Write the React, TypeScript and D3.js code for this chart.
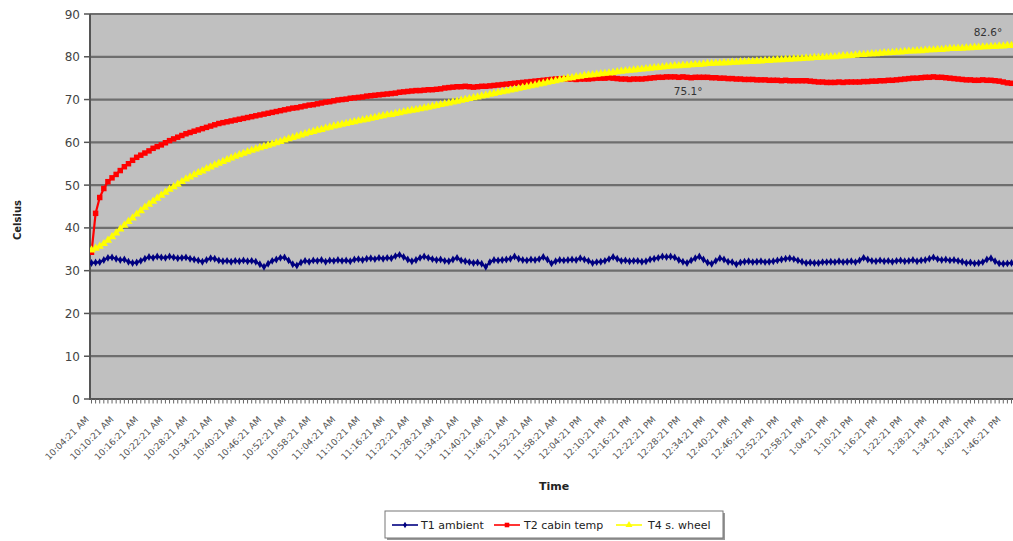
import React from "react";
import * as d3 from "d3";

const yTicks = [0, 10, 20, 30, 40, 50, 60, 70, 80, 90];

const tickLabels = [
  "10:04:21 AM", "10:10:21 AM", "10:16:21 AM", "10:22:21 AM", "10:28:21 AM", "10:34:21 AM", "10:40:21 AM", "10:46:21 AM", "10:52:21 AM", "10:58:21 AM",
  "11:04:21 AM", "11:10:21 AM", "11:16:21 AM", "11:22:21 AM", "11:28:21 AM", "11:34:21 AM", "11:40:21 AM", "11:46:21 AM", "11:52:21 AM", "11:58:21 AM",
  "12:04:21 PM", "12:10:21 PM", "12:16:21 PM", "12:22:21 PM", "12:28:21 PM", "12:34:21 PM", "12:40:21 PM", "12:46:21 PM", "12:52:21 PM", "12:58:21 PM",
  "1:04:21 PM", "1:10:21 PM", "1:16:21 PM", "1:22:21 PM", "1:28:21 PM", "1:34:21 PM", "1:40:21 PM", "1:46:21 PM",
];
const labelEvery = 6; // one label every 6 samples (1 sample per minute)

const t1Ambient = [
  31.8,31.9,32.0,32.5,33.0,33.1,32.8,32.5,32.6,32.1,
  31.8,31.9,32.3,32.8,33.2,33.0,33.3,33.1,33.0,33.3,
  33.1,32.9,33.0,33.1,32.8,32.6,32.4,32.1,32.5,32.9,
  32.8,32.4,32.2,32.3,32.1,32.3,32.2,32.4,32.2,32.3,
  32.1,31.5,30.9,31.6,32.3,32.6,33.0,33.1,32.4,31.5,
  31.2,31.9,32.3,32.1,32.4,32.3,32.5,32.1,32.4,32.3,
  32.5,32.3,32.4,32.2,32.6,32.7,32.5,32.8,32.9,32.7,
  33.0,32.8,33.0,32.9,33.4,33.7,33.2,32.6,32.2,32.5,
  33.0,33.3,33.0,32.7,32.5,32.6,32.3,32.2,32.6,33.0,
  32.4,32.2,32.0,31.8,31.9,31.6,30.9,32.0,32.5,32.4,
  32.5,32.6,32.8,33.3,32.8,32.5,32.4,32.6,32.5,32.7,
  33.2,32.6,31.7,32.2,32.5,32.4,32.5,32.6,32.5,32.9,
  32.6,32.3,31.8,32.0,32.1,32.3,32.7,33.2,32.8,32.3,
  32.4,32.2,32.3,32.3,32.1,32.2,32.6,32.8,33.0,33.3,
  33.2,33.3,33.1,32.5,32.1,31.8,32.4,32.9,33.3,32.6,
  31.9,31.6,32.3,32.9,32.6,32.1,32.0,31.5,31.9,32.1,
  32.2,32.0,32.1,32.2,32.0,32.1,32.2,32.4,32.6,32.8,
  32.9,32.7,32.4,32.1,31.8,31.9,31.8,31.8,32.0,32.0,
  32.1,32.0,32.2,32.0,32.1,32.2,32.0,32.4,33.0,32.6,
  32.3,32.2,32.4,32.2,32.3,32.1,32.3,32.4,32.2,32.3,
  32.5,32.2,32.4,32.5,32.8,33.1,32.7,32.5,32.6,32.4,
  32.5,32.3,32.1,31.8,31.9,31.7,31.8,32.0,32.6,32.9,
  32.2,31.7,31.6,31.7,31.8,
];

const t2Cabin = [
  34.3,43.4,47.1,49.2,50.8,51.7,52.5,53.4,54.3,55.0,
  55.8,56.5,57.0,57.5,58.0,58.6,59.0,59.4,59.9,60.4,
  60.8,61.2,61.6,62.0,62.3,62.6,62.9,63.2,63.5,63.8,
  64.1,64.4,64.6,64.8,65.0,65.2,65.4,65.6,65.8,66.0,
  66.2,66.4,66.6,66.8,67.0,67.2,67.4,67.6,67.8,68.0,
  68.1,68.3,68.5,68.7,68.8,69.0,69.2,69.4,69.5,69.7,
  69.9,70.0,70.1,70.3,70.4,70.5,70.6,70.8,70.9,71.0,
  71.1,71.2,71.3,71.4,71.5,71.7,71.8,71.9,72.0,72.1,
  72.1,72.2,72.3,72.3,72.4,72.5,72.7,72.8,72.9,73.0,
  73.0,73.1,73.0,72.9,73.0,73.1,73.1,73.2,73.3,73.4,
  73.5,73.6,73.7,73.8,73.9,74.0,74.1,74.2,74.3,74.4,
  74.5,74.6,74.7,74.8,74.8,74.9,74.8,74.8,74.7,74.8,
  74.8,74.8,74.9,75.0,75.0,75.0,75.1,75.0,74.9,74.8,
  74.8,74.7,74.8,74.8,74.8,74.9,75.0,75.1,75.2,75.2,
  75.3,75.3,75.3,75.2,75.3,75.2,75.1,75.2,75.2,75.2,
  75.2,75.1,75.1,75.0,75.0,74.9,74.9,74.8,74.8,74.7,
  74.7,74.7,74.6,74.6,74.6,74.5,74.5,74.5,74.4,74.5,
  74.4,74.4,74.4,74.4,74.4,74.3,74.2,74.1,74.1,74.0,
  74.0,74.0,74.1,74.0,74.1,74.1,74.1,74.1,74.2,74.2,
  74.3,74.3,74.4,74.4,74.5,74.5,74.6,74.7,74.8,74.9,
  75.0,75.0,75.1,75.2,75.2,75.3,75.2,75.2,75.1,75.0,
  74.9,74.8,74.7,74.6,74.6,74.5,74.5,74.6,74.5,74.5,
  74.4,74.3,74.1,73.9,73.8,
];

const t4Wheel = [
  34.8,35.2,35.7,36.3,37.1,37.9,38.8,39.7,40.6,41.5,
  42.3,43.2,44.0,44.8,45.5,46.2,46.9,47.6,48.3,49.0,
  49.6,50.2,50.8,51.4,51.9,52.4,52.9,53.3,53.8,54.2,
  54.7,55.1,55.5,55.9,56.3,56.7,57.1,57.4,57.8,58.1,
  58.4,58.7,59.0,59.3,59.6,59.9,60.2,60.5,60.8,61.1,
  61.4,61.7,62.0,62.3,62.5,62.8,63.0,63.3,63.5,63.8,
  64.0,64.2,64.4,64.6,64.8,65.0,65.2,65.4,65.6,65.8,
  66.0,66.2,66.4,66.5,66.7,66.9,67.1,67.3,67.5,67.6,
  67.8,68.0,68.2,68.4,68.6,68.8,69.0,69.2,69.4,69.6,
  69.8,70.0,70.2,70.4,70.6,70.8,71.0,71.2,71.4,71.6,
  71.8,72.0,72.2,72.4,72.6,72.8,73.0,73.2,73.4,73.6,
  73.8,74.0,74.2,74.4,74.6,74.8,75.0,75.1,75.3,75.4,
  75.6,75.7,75.8,75.9,76.0,76.1,76.2,76.3,76.5,76.6,
  76.7,76.8,76.9,77.0,77.1,77.2,77.3,77.4,77.5,77.6,
  77.7,77.8,77.9,77.9,78.0,78.0,78.1,78.2,78.2,78.3,
  78.4,78.4,78.5,78.5,78.6,78.6,78.7,78.7,78.8,78.8,
  78.9,78.9,79.0,79.0,79.1,79.1,79.2,79.3,79.3,79.4,
  79.4,79.5,79.5,79.6,79.7,79.7,79.8,79.8,79.9,79.9,
  80.0,80.0,80.1,80.2,80.2,80.3,80.4,80.5,80.5,80.6,
  80.7,80.7,80.8,80.9,80.9,81.0,81.1,81.1,81.2,81.3,
  81.3,81.4,81.4,81.5,81.6,81.6,81.7,81.7,81.8,81.9,
  81.9,82.0,82.0,82.1,82.1,82.2,82.2,82.3,82.3,82.4,
  82.4,82.5,82.5,82.6,82.6,
];

const seriesNames = ["T1 ambient", "T2 cabin temp", "T4 s. wheel"];
const annotations = [
  { label: "75.1°", index: 146, value: 71.0 },
  { label: "82.6°", index: 219, value: 84.9 },
];

const W = 1013;
const H = 541;
const FONT = "'DejaVu Sans', Verdana, sans-serif";

export default function App() {
  const n = t2Cabin.length;
  const plot = { left: 90, top: 14, right: 1013, bottom: 399 };
  const x = d3.scaleLinear().domain([0, n - 1]).range([91.5, 1011.5]);
  const y = d3.scaleLinear().domain([0, 90]).range([plot.bottom, plot.top]);
  const line = d3
    .line<number>()
    .x((_, i) => x(i))
    .y((d) => y(d));

  const series = [
    { name: seriesNames[0], data: t1Ambient, color: "#000080", sym: d3.symbolDiamond, size: 18, width: 2.2 },
    { name: seriesNames[1], data: t2Cabin, color: "#ff0000", sym: d3.symbolSquare, size: 30, width: 2.2 },
    { name: seriesNames[2], data: t4Wheel, color: "#ffff00", sym: d3.symbolTriangle, size: 30, width: 2.2 },
  ];

  const idx = d3.range(n);
  const labelIdx = tickLabels.map((_, i) => i * labelEvery);

  const legendItems = [
    { x0: 392, tx: 421 },
    { x0: 494, tx: 524 },
    { x0: 616, tx: 648 },
  ];

  return (
    <svg width={W} height={H} style={{ position: "absolute", left: 0, top: 0, background: "#fff" }}>
      <defs>
        <clipPath id="plotclip">
          <rect x={plot.left} y={plot.top - 4} width={plot.right - plot.left} height={plot.bottom - plot.top + 8} />
        </clipPath>
      </defs>
      <rect x={plot.left} y={plot.top} width={plot.right - plot.left} height={plot.bottom - plot.top} fill="#c0c0c0" />
      {yTicks.map((t) => (
        <g key={t}>
          <line x1={plot.left} x2={plot.right} y1={y(t)} y2={y(t)} stroke="#6e6e6e" strokeWidth={2.2} />
          <line x1={84} x2={plot.left} y1={y(t)} y2={y(t)} stroke="#555" strokeWidth={1.5} />
          <text x={80} y={y(t) + 4.5} textAnchor="end" fontFamily={FONT} fontSize={12} fill="#444">
            {t}
          </text>
        </g>
      ))}
      <line x1={plot.left} x2={plot.left} y1={plot.top} y2={plot.bottom + 1} stroke="#555" strokeWidth={2} />
      <line x1={plot.left} x2={plot.right} y1={plot.bottom} y2={plot.bottom} stroke="#555" strokeWidth={2} />
      {idx.map((i) => (
        <line key={i} x1={x(i)} x2={x(i)} y1={plot.bottom} y2={plot.bottom + 4.5} stroke="#666" strokeWidth={1} />
      ))}
      {labelIdx.map((i, k) => (
        <text
          key={k}
          transform={`translate(${x(i) - 2},${420}) rotate(-45)`}
          textAnchor="end"
          fontFamily={FONT}
          fontSize={9}
          fill="#555"
        >
          {tickLabels[k]}
        </text>
      ))}
      <g clipPath="url(#plotclip)">
        {series.map((s) => (
          <g key={s.name}>
            <path d={line(s.data) || ""} fill="none" stroke={s.color} strokeWidth={s.width} />
            {s.data.map((v, i) => (
              <path
                key={i}
                transform={`translate(${x(i)},${y(v)})`}
                d={d3.symbol().type(s.sym).size(s.size)() || ""}
                fill={s.color}
              />
            ))}
          </g>
        ))}
      </g>
      {annotations.map((a) => (
        <text key={a.label} x={x(a.index) - 3} y={y(a.value)} textAnchor="middle" fontFamily={FONT} fontSize={10.5} fill="#333">
          {a.label}
        </text>
      ))}
      <text
        transform="translate(21,220) rotate(-90)"
        textAnchor="middle"
        fontFamily={FONT}
        fontSize={10}
        fontWeight="bold"
        fill="#222"
      >
        Celsius
      </text>
      <text x={554} y={490} textAnchor="middle" fontFamily={FONT} fontSize={11} fontWeight="bold" fill="#222">
        Time
      </text>
      <rect x={387} y={513} width={338} height={27} fill="#999" />
      <rect x={385} y={511} width={338} height={27} fill="#fff" stroke="#777" strokeWidth={1} />
      {series.map((s, k) => (
        <g key={s.name}>
          <line x1={legendItems[k].x0} x2={legendItems[k].x0 + 26} y1={525} y2={525} stroke={s.color} strokeWidth={1.6} />
          <path
            transform={`translate(${legendItems[k].x0 + 13},525)`}
            d={d3.symbol().type(s.sym).size(s.size * 0.7)() || ""}
            fill={s.color}
          />
          <text x={legendItems[k].tx} y={529} fontFamily={FONT} fontSize={11} fill="#222">
            {s.name}
          </text>
        </g>
      ))}
    </svg>
  );
}
